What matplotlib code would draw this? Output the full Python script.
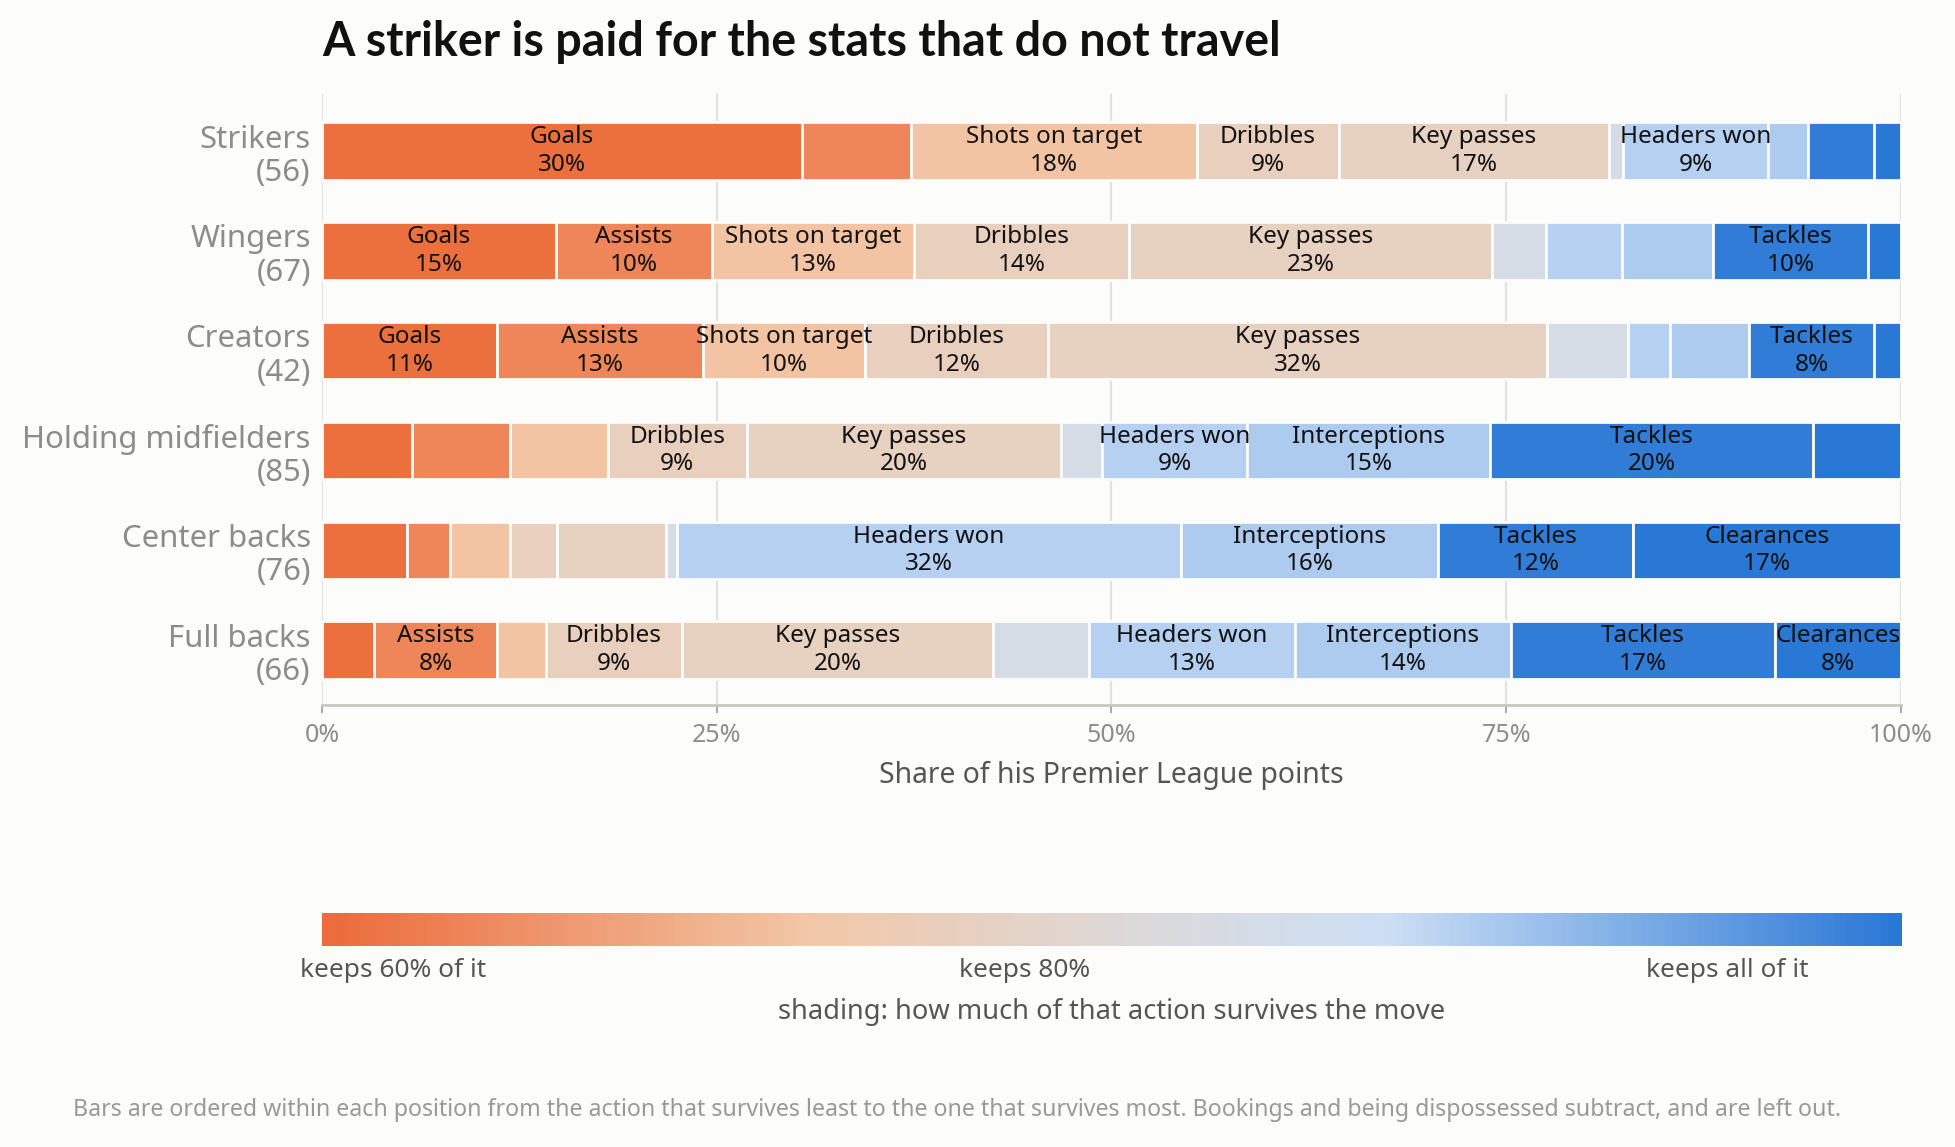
import numpy as np
import matplotlib.pyplot as plt
from matplotlib.colors import LinearSegmentedColormap, Normalize

plt.rcParams['font.family'] = ['Noto Sans', 'DejaVu Sans']

# rows, top to bottom
positions = ["Strikers", "Wingers", "Creators", "Holding midfielders", "Center backs", "Full backs"]
players = [56, 67, 42, 85, 76, 66]

# actions, ordered from the one that survives the move least to most
actions = ["Goals", "Assists", "Shots on target", "Dribbles", "Key passes",
           "Crosses", "Headers won", "Interceptions", "Tackles", "Clearances"]
survival = [60.5, 63.6, 72.0, 76.0, 76.5, 83.2, 88.8, 89.5, 99.5, 100.0]

# share of points (%) per action, same order as actions
strikers = [30.4, 6.9, 18.1, 9.0, 17.1, 0.9, 9.2, 2.5, 4.2, 1.7]
wingers = [14.8, 9.9, 12.8, 13.6, 23.0, 3.4, 4.8, 5.8, 9.8, 2.1]
creators = [11.1, 13.0, 10.3, 11.6, 31.6, 5.1, 2.7, 5.0, 7.9, 1.7]
holding = [5.7, 6.2, 6.2, 8.8, 19.9, 2.6, 9.2, 15.4, 20.4, 5.6]
center_backs = [5.4, 2.7, 3.8, 3.0, 6.9, 0.7, 31.9, 16.3, 12.3, 17.0]
full_backs = [3.3, 7.8, 3.1, 8.6, 19.7, 6.1, 13.0, 13.7, 16.7, 8.0]
shares = [strikers, wingers, creators, holding, center_backs, full_backs]

BG = "#FCFCFA"
cmap = LinearSegmentedColormap.from_list(
    "survive",
    [(0.0, "#EC6B3A"), (0.31, "#F2C8A8"), (0.52, "#DCDADB"),
     (0.675, "#CCDFF5"), (1.0, "#2A78D6")])
norm = Normalize(vmin=60, vmax=100)

fig = plt.figure(figsize=(19.56, 11.47), dpi=100, facecolor=BG)
ax = fig.add_axes([0.1646, 0.3853, 0.8073, 0.533], facecolor=BG)

for i, row in enumerate(shares):
    left = 0.0
    for action, share, surv in zip(actions, row, survival):
        ax.barh(i, share, left=left, height=0.575, color=cmap(norm(surv)),
                edgecolor=BG, linewidth=2, zorder=2)
        if share >= 7.5:
            ax.text(left + share / 2, i, f"{action}\n{share:.0f}%",
                    ha="center", va="center", fontsize=17.5, color="#111111",
                    linespacing=1.2, zorder=3)
        left += share

ax.set_xlim(0, 100)
ax.set_ylim(5.55, -0.575)
ax.set_yticks(range(len(positions)))
ax.set_yticklabels([f"{p}\n({n})" for p, n in zip(positions, players)],
                   fontsize=22.4, color="#8C8C8C", linespacing=1.15)
ax.tick_params(axis="y", length=0, pad=8)
ax.set_xticks([0, 25, 50, 75, 100])
ax.set_xticklabels(["0%", "25%", "50%", "75%", "100%"], fontsize=18, color="#8C8C8C")
ax.tick_params(axis="x", length=6, width=1.2, color="#9A9A9A", pad=7)
ax.grid(axis="x", color="#E3E1DC", linewidth=1.5, zorder=0)
ax.set_axisbelow(True)
for s in ["top", "right", "left"]:
    ax.spines[s].set_visible(False)
ax.spines["bottom"].set_color("#C8C8C0")
ax.spines["bottom"].set_linewidth(2)
ax.set_xlabel("Share of his Premier League points", fontsize=20.4, color="#555555", labelpad=9)

fig.text(0.1646, 0.951, "A striker is paid for the stats that do not travel",
         fontsize=33.6, fontweight="bold", color="#111111", ha="left", va="baseline",
         family=["Lato", "DejaVu Sans"])

# colour legend
cax = fig.add_axes([0.1646, 0.1752, 0.8073, 0.0288])
cax.imshow(np.linspace(0, 1, 512).reshape(1, -1), cmap=cmap, aspect="auto",
           extent=(0, 1, 0, 1))
cax.set_axis_off()
for xf, lab in zip([0.045, 0.445, 0.89], ["keeps 60% of it", "keeps 80%", "keeps all of it"]):
    cax.text(xf, -0.75, lab, transform=cax.transAxes, ha="center", va="center",
             fontsize=18.9, color="#555555")
fig.text(0.5685, 0.1177, "shading: how much of that action survives the move",
         ha="center", va="center", fontsize=19.6, color="#555555")

fig.text(0.4895, 0.032,
         "Bars are ordered within each position from the action that survives least to the one "
         "that survives most. Bookings and being dispossessed subtract, and are left out.",
         ha="center", va="center", fontsize=16.7, color="#999999")

fig.savefig("out.png", dpi=100, facecolor=BG)
